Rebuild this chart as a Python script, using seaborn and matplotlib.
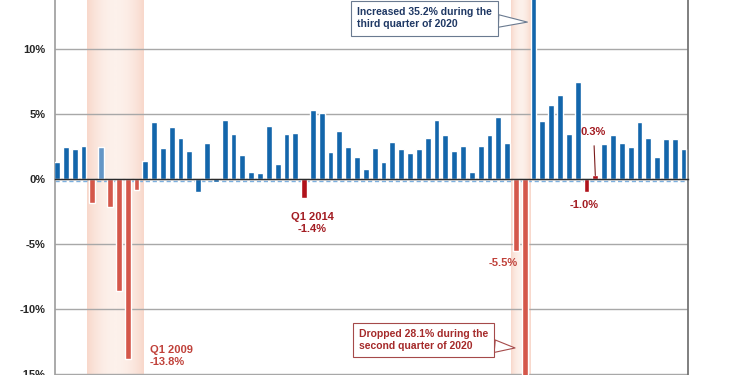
import matplotlib
matplotlib.use('Agg')
import matplotlib.pyplot as plt
from matplotlib.colors import LinearSegmentedColormap
import numpy as np
import pandas as pd
import seaborn as sns

# quarterly GDP growth, annualized, Q1 2007 .. Q4 2024
years = list(range(2007, 2025))
quarters = [f'Q{q} {y}' for y in years for q in range(1, 5)]
growth = [1.3, 2.5, 2.35, 2.6,
          -1.8, 2.5, -2.1, -8.6,
          -13.8, -0.8, 1.4, 4.4,
          2.4, 4.0, 3.2, 2.2,
          -1.0, 2.8, -0.2, 4.6,
          3.5, 1.9, 0.6, 0.5,
          4.1, 1.2, 3.5, 3.6,
          -1.4, 5.3, 5.1, 2.1,
          3.7, 2.5, 1.7, 0.8,
          2.4, 1.3, 2.9, 2.3,
          2.0, 2.3, 3.2, 4.6,
          3.4, 2.2, 2.6, 0.6,
          2.6, 3.4, 4.8, 2.8,
          -5.5, -28.1, 35.2, 4.5,
          5.7, 6.5, 3.5, 7.5,
          -1.0, 0.3, 2.7, 3.4,
          2.8, 2.5, 4.4, 3.2,
          1.7, 3.1, 3.1, 2.3]
# bar styling class
kind = ['normal'] * len(growth)
for i in [4, 6, 7, 8, 9, 52, 53]:
    kind[i] = 'recession'
kind[5] = 'recession_up'
for i in [28, 60, 61]:
    kind[i] = 'highlight'

df = pd.DataFrame({'quarter': quarters, 'growth': growth, 'kind': kind})

palette = {'normal': '#1366ab', 'recession': '#d4574a',
           'recession_up': '#6496c6', 'highlight': '#b0121b'}

sns.set_theme(style='white')
plt.rcParams['font.family'] = ['Liberation Sans', 'DejaVu Sans']

fig = plt.figure(figsize=(7.5, 3.75), dpi=100)
ax = fig.add_axes([0.0733, 0.0, 0.8440, 1.0])

# recession shading (gradient, darker at the edges)
shade = LinearSegmentedColormap.from_list('shade', ['#fdf1eb', '#f8d8cb'])
grad = np.abs(np.linspace(-1, 1, 60))[None, :] ** 2
for x0, x1 in [(3.35, 9.75), (51.5, 53.7)]:
    ax.imshow(grad, cmap=shade, extent=(x0, x1, -16, 15), aspect='auto',
              zorder=0, interpolation='bilinear')

sns.barplot(data=df, x='quarter', y='growth', hue='kind', palette=palette,
            order=quarters, dodge=False, width=0.66, saturation=1,
            legend=False, ax=ax, zorder=3)

ax.set_xlim(-0.23, 71.46)
ax.set_ylim(-15.05, 13.8)

# grid and axes
ax.set_yticks([-15, -10, -5, 0, 5, 10])
ax.set_yticklabels(['-15%', '-10%', '-5%', '0%', '5%', '10%'],
                   fontsize=8, fontweight='bold', color='#262626')
ax.yaxis.grid(True, color='#a8a8a8', lw=1)
ax.set_axisbelow(True)
ax.tick_params(axis='y', length=0, pad=7)
ax.set_xticks(np.arange(3.5, 72, 4))
ax.set_xticklabels([])
ax.tick_params(axis='x', length=3, width=0.8, color='#333333', direction='out')
ax.set_xlabel('')
ax.set_ylabel('')
ax.spines['bottom'].set_position(('data', 0))
ax.spines['bottom'].set_color('#2b2b2b')
ax.spines['bottom'].set_linewidth(1)
ax.spines['bottom'].set_zorder(4)
ax.spines['top'].set_visible(False)
ax.spines['left'].set_color('#a0a0a0')
ax.spines['right'].set_color('#707070')
ax.axhline(-0.13, color='#7db0df', lw=1, ls=(0, (3, 2)), zorder=1)

# annotations
dark_red = '#a31c22'
rec_red = '#c0413a'
ax.text(10.5, -13.6, 'Q1 2009\n-13.8%', color=rec_red, fontsize=8,
        fontweight='bold', ha='left', va='center', linespacing=1.2)
ax.text(28.9, -3.35, 'Q1 2014\n-1.4%', color=dark_red, fontsize=8,
        fontweight='bold', ha='center', va='center', linespacing=1.2)
ax.text(50.6, -6.4, '-5.5%', color=rec_red, fontsize=8,
        fontweight='bold', ha='center', va='center')
ax.text(59.7, -1.97, '-1.0%', color=dark_red, fontsize=8,
        fontweight='bold', ha='center', va='center')
ax.annotate('0.3%', xy=(61, 0.3), xytext=(60.8, 3.65), color=dark_red,
            fontsize=8, fontweight='bold', ha='center', va='center',
            arrowprops=dict(arrowstyle='-', color='#7a1a1a', lw=0.8,
                            shrinkA=4, shrinkB=0))

ax.annotate('Increased 35.2% during the\nthird quarter of 2020',
            xy=(53.3, 12.1), xytext=(34.0, 12.4), color='#1f3864',
            fontsize=7.5, fontweight='bold', ha='left', va='center',
            linespacing=1.3, zorder=6,
            bbox=dict(boxstyle='square,pad=0.6', fc='white', ec='#6a7a90', lw=0.8),
            arrowprops=dict(arrowstyle='wedge,tail_width=1.2', fc='white',
                            ec='#6a7a90', lw=0.8, shrinkA=0, shrinkB=0))
ax.annotate('Dropped 28.1% during the\nsecond quarter of 2020',
            xy=(51.9, -12.97), xytext=(34.2, -12.36), color='#a52a2a',
            fontsize=7.5, fontweight='bold', ha='left', va='center',
            linespacing=1.3, zorder=6,
            bbox=dict(boxstyle='square,pad=0.6', fc='white', ec='#a54a4a', lw=0.8),
            arrowprops=dict(arrowstyle='wedge,tail_width=1.2', fc='white',
                            ec='#a54a4a', lw=0.8, shrinkA=0, shrinkB=0))

fig.savefig('out.png', dpi=100)
